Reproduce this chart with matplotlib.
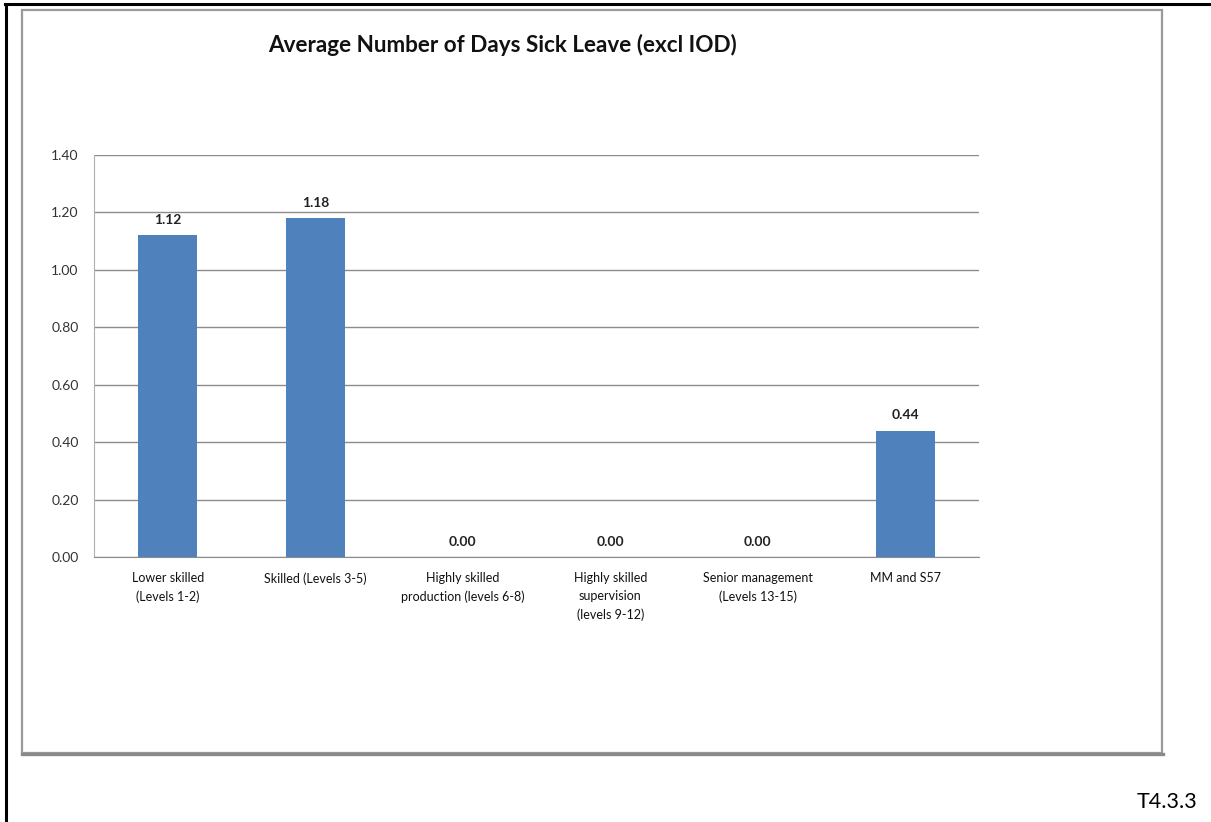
import matplotlib
matplotlib.use("Agg")
import matplotlib.pyplot as plt
from matplotlib.lines import Line2D
from matplotlib.patches import Rectangle
import numpy as np

plt.rcParams['font.family'] = ['Lato', 'DejaVu Sans']

categories = [
    "Lower skilled\n(Levels 1-2)",
    "Skilled (Levels 3-5)",
    "Highly skilled\nproduction (levels 6-8)",
    "Highly skilled\nsupervision\n(levels 9-12)",
    "Senior management\n(Levels 13-15)",
    "MM and S57",
]
values = [1.12, 1.18, 0.00, 0.00, 0.00, 0.44]
yticks = [0.00, 0.20, 0.40, 0.60, 0.80, 1.00, 1.20, 1.40]

W, H = 1211, 822
fig = plt.figure(figsize=(W / 100, H / 100), dpi=100)
fig.patch.set_facecolor("white")


def fx(px):
    return px / W


def fy(py):
    return 1 - py / H


# page border lines (left and top)
fig.add_artist(Line2D([fx(6), fx(6)], [fy(4), fy(822)], color="black", lw=2.2))
fig.add_artist(Line2D([fx(5), fx(1211)], [fy(4.5), fy(4.5)], color="black", lw=2.2))

# chart frame with a soft shadow on the bottom edge
fig.add_artist(Rectangle((fx(22), fy(753)), fx(1162) - fx(22), fy(10) - fy(753),
                         transform=fig.transFigure, fill=False,
                         edgecolor="#9a9a9a", lw=1.6))
fig.add_artist(Line2D([fx(22), fx(1163)], [fy(753.5), fy(753.5)],
                      color="#8a8a8a", lw=2.4))

ax = fig.add_axes([fx(94), fy(557), fx(979) - fx(94), fy(155) - fy(557)])
x = np.arange(len(categories))
bars = ax.bar(x, values, width=0.4, color="#4F81BD", zorder=3)

ax.set_xlim(-0.5, len(categories) - 0.5)
ax.set_ylim(0, 1.4)
ax.set_yticks(yticks)
ax.set_yticklabels([f"{v:.2f}" for v in yticks], fontsize=10, color="#333333")
ax.set_xticks(x)
ax.set_xticklabels(categories, fontsize=9, color="#111111", linespacing=1.6)
ax.tick_params(axis="both", length=0)
ax.tick_params(axis="y", pad=11)
ax.tick_params(axis="x", pad=11)

ax.yaxis.grid(True, color="#8c8c8c", lw=1.0, zorder=0)
for side in ("top", "right"):
    ax.spines[side].set_visible(False)
ax.spines["left"].set_color("#b0b0b0")
ax.spines["bottom"].set_color("#8c8c8c")

for xi, v in zip(x, values):
    ax.annotate(f"{v:.2f}", (xi, v), xytext=(0, 11), textcoords="offset points",
                ha="center", va="center", fontsize=10, fontweight="bold",
                color="#222222")

fig.text(fx(502), fy(45), "Average Number of Days Sick Leave (excl IOD)",
         ha="center", va="center", fontsize=16.2, fontweight="bold", color="#111111")

fig.text(fx(1197), fy(802), "T4.3.3", ha="right", va="center", fontsize=15.5,
         color="black")

fig.savefig("out.png", dpi=100)
